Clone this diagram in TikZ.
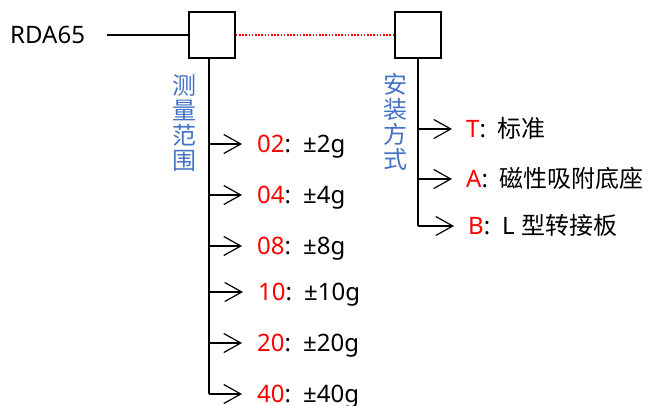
\documentclass[tikz,border=0pt]{standalone}
\usepackage{fontspec}
\setmainfont{Noto Sans}
\newfontfamily\cjk{Noto Sans CJK SC}
\usetikzlibrary{arrows.meta}
\usetikzlibrary{calc}
\usetikzlibrary{positioning}

\definecolor{codeblue}{RGB}{68,114,196}

\begin{document}
\begin{tikzpicture}[x=1pt,y=-1pt,
    font=\fontsize{24}{25}\selectfont,
    codebox/.style={draw, line width=1.4pt, minimum size=46pt, inner sep=0pt},
    branch/.style={line width=1.2pt, -{Straight Barb[length=17pt,width=19pt]}, shorten >=14pt},
    lbl/.style={anchor=west, inner sep=0pt, text height=17.5pt, text depth=0pt},
    vtitle/.style={text=codeblue, align=center, inner sep=0pt, font=\fontsize{24}{25}\selectfont\cjk}]
            \useasboundingbox (0,0) rectangle (648,405);

            % Code boxes
            \node[codebox] (rangebox) at (212,35) {};
            \node[codebox] (mountbox) at (418,35) {};
            \node[anchor=west, inner sep=0pt] (model) at (10,35) {RDA65};
            \coordinate (modelend) at (107,35);
            \draw[line width=1.2pt] (modelend) -- (rangebox.west);
            \draw[red, line width=1.8pt, dash pattern=on 1.6pt off 1.6pt] (rangebox.east) -- (mountbox.west);

            % Range branch
            \coordinate (rtop) at (209,58);
            \coordinate (rbot) at (209,394);
            \draw[line width=1.3pt] (rtop) -- (rbot);
            \node[vtitle] (rangetitle) at (184,123) {测\\量\\范\\围};
            \node[lbl] (r02) at (257,144) {\textcolor{red}{02}:\enspace ±2g};
            \node[lbl] (r04) at (257,195) {\textcolor{red}{04}:\enspace ±4g};
            \node[lbl] (r08) at (257,246) {\textcolor{red}{08}:\enspace ±8g};
            \node[lbl] (r10) at (258,292) {\textcolor{red}{10}:\enspace ±10g};
            \node[lbl] (r20) at (257,343) {\textcolor{red}{20}:\enspace ±20g};
            \node[lbl] (r40) at (257,394) {\textcolor{red}{40}:\enspace ±40g};
            \foreach \n in {r02,r04,r08,r10,r20,r40}
              \draw[branch] (rtop |- \n.west) -- ([xshift=-1pt]\n.west);

            % Mounting branch
            \coordinate (mtop) at (418,58);
            \coordinate (mbot) at (418,226);
            \draw[line width=1.3pt] (mtop) -- (mbot);
            \node[vtitle] (mounttitle) at (395,122) {安\\装\\方\\式};
            \node[lbl] (mT) at (466,129) {\textcolor{red}{T}:\enspace {\cjk 标准}};
            \node[lbl] (mA) at (466,179) {\textcolor{red}{A}:\enspace {\cjk 磁性吸附底座}};
            \node[lbl] (mB) at (468,226) {\textcolor{red}{B}:\enspace L {\cjk 型转接板}};
            \foreach \n in {mT,mA,mB}
              \draw[branch] (mtop |- \n.west) -- ([xshift=0pt]\n.west);

\end{tikzpicture}
\end{document}
